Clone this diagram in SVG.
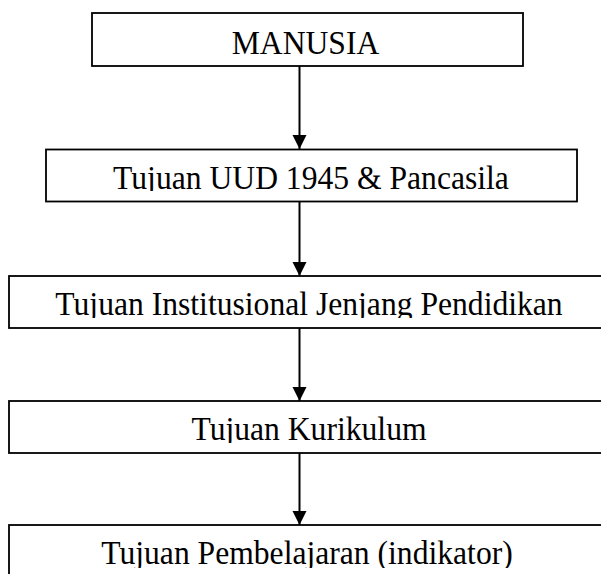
<svg xmlns="http://www.w3.org/2000/svg" width="601" height="574" viewBox="0 0 601 574">
<style>
.box{fill:#fff;stroke:#000;stroke-width:1.8}
.lbl{font-family:"Liberation Serif","Times New Roman",serif;font-size:34px;fill:#000;text-anchor:middle}
.conn{stroke:#000;stroke-width:2;fill:none}
</style>
<defs>
<marker id="ah" markerUnits="userSpaceOnUse" markerWidth="16" markerHeight="16" refX="14" refY="7" orient="auto">
<path d="M0,0 L14,7 L0,14 Z" fill="#000"/>
</marker>
<clipPath id="c1"><rect x="92" y="13" width="431" height="53"/></clipPath>
<clipPath id="c2"><rect x="46" y="149" width="531" height="42"/></clipPath>
<clipPath id="c3"><rect x="9" y="276" width="600" height="42"/></clipPath>
<clipPath id="c4"><rect x="9" y="401" width="600" height="42"/></clipPath>
<clipPath id="c5"><rect x="9" y="525" width="600" height="43"/></clipPath>
</defs>
<rect width="601" height="574" fill="#fff"/>
<g id="connectors">
<line class="conn" x1="299.5" y1="66" x2="299.5" y2="149" marker-end="url(#ah)"/>
<line class="conn" x1="299.5" y1="202" x2="299.5" y2="276" marker-end="url(#ah)"/>
<line class="conn" x1="299.5" y1="328" x2="299.5" y2="401" marker-end="url(#ah)"/>
<line class="conn" x1="299.5" y1="453" x2="299.5" y2="525" marker-end="url(#ah)"/>
</g>
<g id="n1">
<rect class="box" x="92" y="13" width="431" height="53"/>
<g clip-path="url(#c1)"><text class="lbl" transform="translate(305.5,53.5) scale(0.93,1)">MANUSIA</text></g>
</g>
<g id="n2">
<rect class="box" x="46" y="149.5" width="531" height="52"/>
<g clip-path="url(#c2)"><text class="lbl" transform="translate(311,189) scale(0.93,1)">Tujuan UUD 1945 &amp; Pancasila</text></g>
</g>
<g id="n3">
<rect class="box" x="9" y="276" width="600" height="52"/>
<g clip-path="url(#c3)"><text class="lbl" transform="translate(309,315) scale(0.93,1)">Tujuan Institusional Jenjang Pendidikan</text></g>
</g>
<g id="n4">
<rect class="box" x="9" y="401" width="600" height="52"/>
<g clip-path="url(#c4)"><text class="lbl" transform="translate(309,440) scale(0.93,1)">Tujuan Kurikulum</text></g>
</g>
<g id="n5">
<rect class="box" x="9" y="525" width="600" height="60"/>
<g clip-path="url(#c5)"><text class="lbl" transform="translate(307,563.5) scale(0.93,1)">Tujuan Pembelajaran (indikator)</text></g>
</g>
</svg>
